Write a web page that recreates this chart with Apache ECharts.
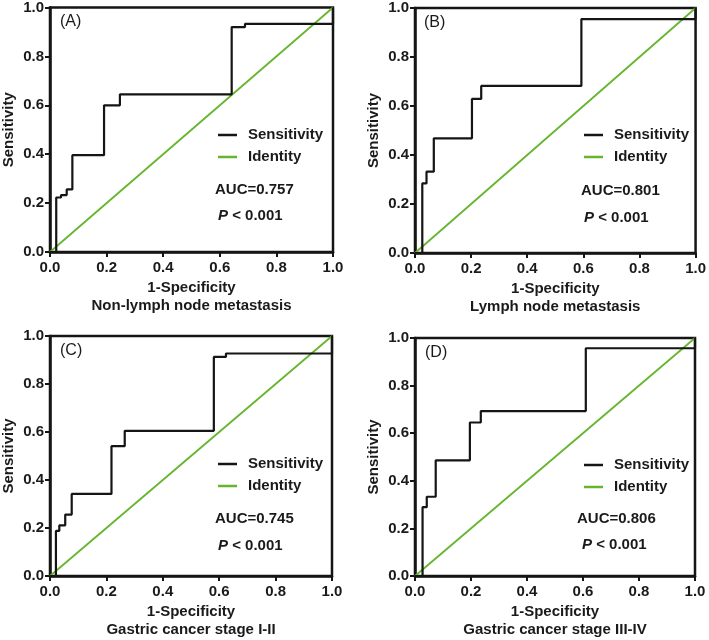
<!DOCTYPE html>
<html>
<head>
<meta charset="utf-8">
<script src="https://cdn.jsdelivr.net/npm/echarts@6/dist/echarts.min.js"></script>
<style>
html,body{margin:0;padding:0;background:#fff;}
#chart{width:709px;height:640px;}
</style>
</head>
<body>
<div id="chart"></div>
<script>
// ROC points (1-Specificity, Sensitivity)
const fprA = [0, 0.022, 0.039, 0.059, 0.079, 0.191, 0.247, 0.642, 0.689, 1];
const tprA = [0, 0.223, 0.233, 0.256, 0.396, 0.600, 0.645, 0.920, 0.933, 1];
const fprB = [0, 0.026, 0.041, 0.067, 0.203, 0.236, 0.593, 1];
const tprB = [0, 0.284, 0.332, 0.468, 0.629, 0.682, 0.955, 1];
const fprC = [0, 0.021, 0.033, 0.054, 0.077, 0.218, 0.265, 0.581, 0.624, 1];
const tprC = [0, 0.188, 0.211, 0.256, 0.342, 0.541, 0.605, 0.913, 0.927, 1];
const fprD = [0, 0.027, 0.042, 0.074, 0.196, 0.235, 0.610, 1];
const tprD = [0, 0.289, 0.333, 0.486, 0.645, 0.693, 0.957, 1];
const identityX = [0, 1];
const identityY = [0, 1];

const panelLabels = ['(A)', '(B)', '(C)', '(D)'];
const subtitles = ['Non-lymph node metastasis', 'Lymph node metastasis', 'Gastric cancer stage I-II', 'Gastric cancer stage III-IV'];
const aucTexts = ['AUC=0.757', 'AUC=0.801', 'AUC=0.745', 'AUC=0.806'];
const pText = '< 0.001';
const seriesNames = ['Sensitivity', 'Identity'];
const xName = '1-Specificity';
const yName = 'Sensitivity';
const tickValues = [0, 0.2, 0.4, 0.6, 0.8, 1.0];

const FONT = '"Liberation Sans", Arial, Helvetica, sans-serif';
const BLACK = '#151515';
const GREEN = '#66b52f';

const grids = [
  {left: 50, top: 7, width: 283, height: 245},
  {left: 415, top: 8, width: 282, height: 245},
  {left: 49, top: 336, width: 283, height: 245},
  {left: 415, top: 338, width: 280, height: 242}
];
const legendPos = [
  {left: 218, top: 127},
  {left: 584, top: 127},
  {left: 218, top: 456},
  {left: 584, top: 457}
];
const textPos = [
  {auc: [215, 191], p: [218, 217], lab: [60, 23]},
  {auc: [581, 192], p: [584, 219], lab: [424, 24]},
  {auc: [215, 520], p: [218, 547], lab: [60, 352]},
  {auc: [577, 520], p: [582, 546], lab: [425, 354]}
];
const rocF = [fprA, fprB, fprC, fprD];
const rocT = [tprA, tprB, tprC, tprD];

const option = {
  backgroundColor: '#fff',
  animation: false,
  grid: grids.map(g => Object.assign({show: true, borderColor: BLACK, borderWidth: 2.5, backgroundColor: 'transparent'}, g)),
  xAxis: grids.map((g, i) => ({
    type: 'value', gridIndex: i, min: 0, max: 1, interval: 0.2,
    name: xName + '\n' + subtitles[i],
    nameLocation: 'middle', nameGap: 27,
    nameTextStyle: {fontFamily: FONT, fontWeight: 'bold', fontSize: 15, color: '#1a1a1a', lineHeight: 18},
    axisLine: {lineStyle: {color: BLACK, width: 2.5}},
    axisTick: {show: true, length: 5, lineStyle: {color: BLACK, width: 2}},
    axisLabel: {margin: 8, fontFamily: FONT, fontWeight: 'bold', fontSize: 15, color: '#1a1a1a',
      formatter: v => v.toFixed(1)},
    splitLine: {show: false}
  })),
  yAxis: grids.map((g, i) => ({
    type: 'value', gridIndex: i, min: 0, max: 1, interval: 0.2,
    name: yName, nameLocation: 'middle', nameGap: 34,
    nameTextStyle: {fontFamily: FONT, fontWeight: 'bold', fontSize: 15, color: '#1a1a1a'},
    axisLine: {lineStyle: {color: BLACK, width: 2.5}},
    axisTick: {show: true, length: 5, lineStyle: {color: BLACK, width: 2}},
    axisLabel: {margin: 6, fontFamily: FONT, fontWeight: 'bold', fontSize: 15, color: '#1a1a1a',
      formatter: v => v.toFixed(1)},
    splitLine: {show: false}
  })),
  legend: legendPos.map((p, i) => ({
    left: p.left, top: p.top, orient: 'vertical', padding: 0,
    data: [seriesNames[0], seriesNames[1]],
    icon: 'rect', itemWidth: 19, itemHeight: 2.5, itemGap: 6,
    selectedMode: false,
    textStyle: {fontFamily: FONT, fontWeight: 'bold', fontSize: 15, color: '#1a1a1a', padding: [0, 0, 0, 6], lineHeight: 16}
  })),
  series: [],
  graphic: []
};

for (let i = 0; i < 4; i++) {
  option.series.push({
    name: seriesNames[1], type: 'line', xAxisIndex: i, yAxisIndex: i,
    data: identityX.map((x, k) => [x, identityY[k]]),
    symbol: 'none', lineStyle: {color: GREEN, width: 1.8}, itemStyle: {color: GREEN}, z: 2
  });
  option.series.push({
    name: seriesNames[0], type: 'line', xAxisIndex: i, yAxisIndex: i,
    data: rocF[i].map((x, k) => [x, rocT[i][k]]),
    step: 'end', symbol: 'none', lineStyle: {color: BLACK, width: 2.2}, itemStyle: {color: BLACK}, z: 3
  });
  const t = textPos[i];
  option.graphic.push({
    type: 'text', left: t.lab[0], top: t.lab[1] - 9,
    style: {text: panelLabels[i], font: '16px ' + FONT, fill: '#1a1a1a'}
  });
  option.graphic.push({
    type: 'text', left: t.auc[0], top: t.auc[1] - 9,
    style: {text: aucTexts[i], font: 'bold 15px ' + FONT, fill: '#1a1a1a'}
  });
  option.graphic.push({
    type: 'text', left: t.p[0], top: t.p[1] - 9,
    style: {
      text: '{i|P} ' + pText,
      font: 'bold 15px ' + FONT, fill: '#1a1a1a',
      rich: {i: {fontStyle: 'italic', fontWeight: 'bold', fontSize: 15, fontFamily: FONT, fill: '#1a1a1a'}}
    }
  });
}

const chart = echarts.init(document.getElementById('chart'), null, {renderer: 'canvas'});
chart.setOption(option);
</script>
</body>
</html>
